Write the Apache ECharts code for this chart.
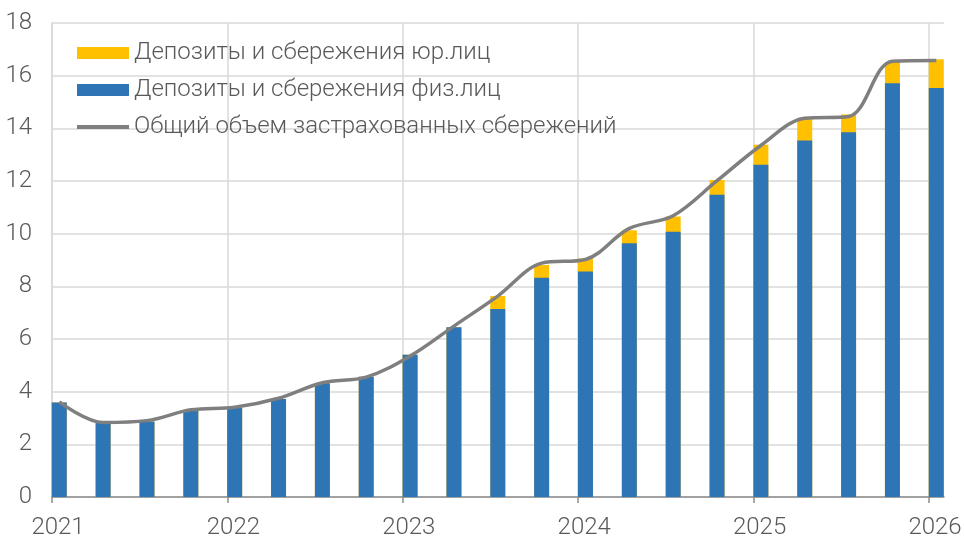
<!DOCTYPE html>
<html>
<head>
<meta charset="utf-8">
<script src="https://cdn.jsdelivr.net/npm/echarts@6/dist/echarts.min.js"></script>
<style>
	html, body { margin: 0; padding: 0; background: #fff; }
	#chart { width: 964px; height: 536px; }
</style>
</head>
<body>
<div id="chart"></div>
<script>
// подписи оси X (годы)
var years = [2021, 2022, 2023, 2024, 2025, 2026];
// кварталы: 2021Q1 ... 2026Q1
var quarters = ['2021Q1', '2021Q2', '2021Q3', '2021Q4', '2022Q1', '2022Q2', '2022Q3', '2022Q4',
	'2023Q1', '2023Q2', '2023Q3', '2023Q4', '2024Q1', '2024Q2', '2024Q3', '2024Q4',
	'2025Q1', '2025Q2', '2025Q3', '2025Q4', '2026Q1'];
// депозиты и сбережения физ.лиц
var fizLic = [3.59, 2.87, 2.87, 3.29, 3.38, 3.72, 4.32, 4.57, 5.40, 6.45, 7.14, 8.33, 8.56, 9.64, 10.07,
	11.48, 12.62, 13.54, 13.85, 15.71, 15.53];
// депозиты и сбережения юр.лиц
var yurLic = [0, 0, 0, 0, 0, 0, 0, 0, 0, 0, 0.49, 0.48, 0.50, 0.49, 0.58, 0.56, 0.76, 0.86, 0.68, 0.81, 1.09];
// общий объем застрахованных сбережений
var total = [3.61, 2.83, 2.90, 3.31, 3.41, 3.75, 4.34, 4.55, 5.35, 6.49, 7.63, 8.88, 9.02, 10.20, 10.68,
	12.01, 13.35, 14.38, 14.45, 16.55, 16.58];
// названия рядов
var names = ['Депозиты и сбережения юр.лиц', 'Депозиты и сбережения физ.лиц', 'Общий объем застрахованных сбережений'];

var barShift = 0.0415; // столбик начинается от начала квартала
var xMax = 2026.0855;

function qPos(q) {
	return parseInt(q.substr(0, 4)) + (parseInt(q.substr(5)) - 1) / 4 + barShift;
}

var yurData = [], fizData = [], totalData = [];
for (var i = 0; i < quarters.length; i++) {
	var x = qPos(quarters[i]);
	yurData.push([x, +(fizLic[i] + yurLic[i]).toFixed(2)]);
	fizData.push([x, fizLic[i]]);
	totalData.push([x, total[i]]);
}

var font = 'Roboto, "Open Sans", sans-serif';
var myChart = echarts.init(document.getElementById('chart'));

option = {
	animation: false,
	grid: { left: 52, right: 20, top: 23, bottom: 39, containLabel: false, outerBoundsMode: 'none' },
	legend: {
		orient: 'vertical',
		left: 77,
		top: 41,
		itemWidth: 52,
		itemHeight: 12,
		itemGap: 13,
		padding: 0,
		data: [
			{ name: names[0], icon: 'rect' },
			{ name: names[1], icon: 'rect' },
			{ name: names[2], icon: 'path://M0,0H52V4H0Z' }
		],
		textStyle: { fontSize: 24, color: '#595959', fontFamily: font, fontWeight: 300 }
	},
	xAxis: {
		type: 'value',
		min: 2021,
		max: xMax,
		axisLine: { show: true, lineStyle: { color: '#8c8c8c', width: 1.5 } },
		axisTick: { show: true, customValues: years, length: 6, lineStyle: { color: '#8c8c8c', width: 1.5 } },
		axisLabel: {
			customValues: years,
			fontSize: 24,
			color: '#595959',
			fontFamily: font,
			fontWeight: 300,
			margin: 19,
			padding: [0, 0, 0, 12],
			formatter: function (v) { return String(v); }
		},
		splitLine: { show: true, lineStyle: { color: '#d9d9d9', width: 1.5 } }
	},
	yAxis: {
		type: 'value',
		min: 0,
		max: 18,
		interval: 2,
		axisLine: { show: true, lineStyle: { color: '#d9d9d9', width: 1.5 } },
		axisTick: { show: false },
		axisLabel: { fontSize: 24, color: '#595959', fontFamily: font, fontWeight: 300, margin: 20 },
		splitLine: { show: true, lineStyle: { color: '#d9d9d9', width: 1.5 } }
	},
	series: [{
		name: names[0],
		type: 'bar',
		data: yurData,
		barWidth: 15,
		barGap: '-100%',
		itemStyle: { color: '#ffc000' },
		z: 2
	}, {
		name: names[1],
		type: 'bar',
		data: fizData,
		barWidth: 15,
		barGap: '-100%',
		itemStyle: { color: '#2e75b6' },
		z: 3
	}, {
		name: names[2],
		type: 'line',
		data: totalData,
		smooth: 0.35,
		symbol: 'none',
		lineStyle: { color: '#7f7f7f', width: 3.5 },
		itemStyle: { color: '#7f7f7f' },
		z: 4
	}]
};
myChart.setOption(option);
</script>
</body>
</html>
